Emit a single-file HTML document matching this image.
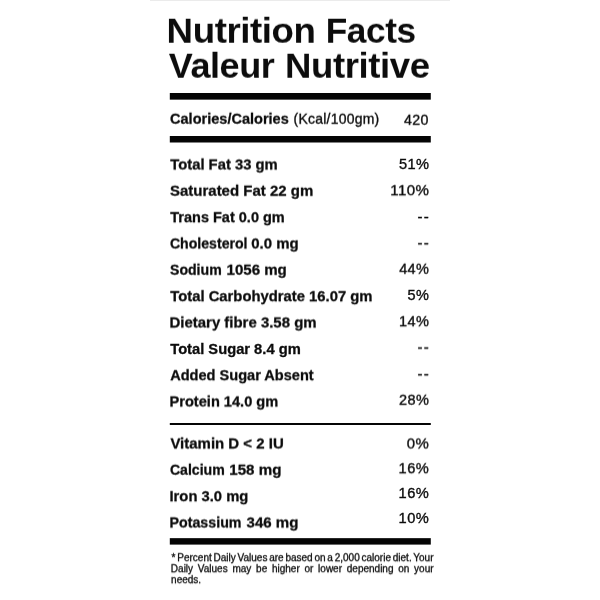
<!DOCTYPE html>
<html><head><meta charset="utf-8">
<title>Nutrition Facts</title>
<style>
html,body{margin:0;padding:0;background:#fff;}
body{width:600px;height:600px;position:relative;overflow:hidden;font-family:"Liberation Sans",sans-serif;color:#0c0c0c;}
.topline{position:absolute;left:150px;top:0;width:300px;height:1px;background:#ebebeb;}
.x{position:absolute;left:0;white-space:pre;transform-origin:0 0;line-height:1;}
.s1{filter:url(#s1)}.s2{filter:url(#s2)}.s3{filter:url(#s3)}
</style></head><body>
<svg width="0" height="0" style="position:absolute"><defs><filter id="s1" x="-5%" y="-30%" width="110%" height="160%" color-interpolation-filters="sRGB"><feConvolveMatrix order="1 2" kernelMatrix="0.75 0.25" targetY="1" divisor="1" preserveAlpha="false" edgeMode="none"/></filter><filter id="s2" x="-5%" y="-30%" width="110%" height="160%" color-interpolation-filters="sRGB"><feConvolveMatrix order="1 2" kernelMatrix="0.5 0.5" targetY="1" divisor="1" preserveAlpha="false" edgeMode="none"/></filter><filter id="s3" x="-5%" y="-30%" width="110%" height="160%" color-interpolation-filters="sRGB"><feConvolveMatrix order="1 2" kernelMatrix="0.25 0.75" targetY="1" divisor="1" preserveAlpha="false" edgeMode="none"/></filter></defs></svg>
<div class="topline"></div>
<svg style="position:absolute;left:0;top:0" width="600" height="600"><rect x="169.8" y="93" width="261" height="6.65" fill="#050505"/><rect x="169.8" y="136" width="261" height="6.5" fill="#050505"/><rect x="169.8" y="423" width="261" height="2" fill="#050505"/><rect x="169.8" y="538.15" width="261" height="6.45" fill="#050505"/></svg>
<div class="x s3" id="t1" style="top:13px;font-size:35.5px;font-weight:bold;letter-spacing:-0.4px;transform:translateX(166.62px) scaleX(1.0323);">Nutrition</div>
<div class="x s3" id="t1b" style="top:13px;font-size:35.5px;font-weight:bold;letter-spacing:-0.4px;transform:translateX(325.75px) scaleX(0.9917);">Facts</div>
<div class="x s3" id="t2" style="top:48px;font-size:35.5px;font-weight:bold;letter-spacing:-0.4px;transform:translateX(168.75px) scaleX(1.0149);">Valeur</div>
<div class="x s3" id="t2b" style="top:48px;font-size:35.5px;font-weight:bold;letter-spacing:-0.4px;transform:translateX(285px) scaleX(1.0297);">Nutritive</div>
<div class="x s3" id="c1" style="top:111px;font-size:14.2px;font-weight:bold;-webkit-text-stroke:0.28px #0c0c0c;transform:translateX(170px) scaleX(1.0248);">Calories/Calories</div>
<div class="x s3" id="c2" style="top:111px;font-size:14.2px;font-weight:normal;letter-spacing:0.25px;-webkit-text-stroke:0.35px #0c0c0c;transform:translateX(293.5px) scaleX(0.9834);">(Kcal/100gm)</div>
<div class="x s3" id="c3" style="top:112px;font-size:14px;font-weight:normal;letter-spacing:0.4px;-webkit-text-stroke:0.35px #0c0c0c;transform:translateX(403.88px) scaleX(1.0159);">420</div>
<div class="x s2" id="l0" style="top:157px;font-size:14.2px;font-weight:bold;-webkit-text-stroke:0.28px #0c0c0c;transform:translateX(170.25px) scaleX(1.0433);">Total Fat 33 gm</div>
<div class="x s3" id="l1" style="top:183px;font-size:14.2px;font-weight:bold;-webkit-text-stroke:0.28px #0c0c0c;transform:translateX(170px) scaleX(1.0561);">Saturated Fat 22 gm</div>
<div class="x s1" id="l2" style="top:210px;font-size:14.2px;font-weight:bold;-webkit-text-stroke:0.28px #0c0c0c;transform:translateX(170.25px) scaleX(1.0229);">Trans Fat 0.0 gm</div>
<div class="x s2" id="l3a" style="top:236px;font-size:14.2px;font-weight:bold;-webkit-text-stroke:0.28px #0c0c0c;transform:translateX(169.88px) scaleX(0.9948);">Cholesterol</div>
<div class="x s2" id="l3b" style="top:236px;font-size:14.2px;font-weight:bold;-webkit-text-stroke:0.28px #0c0c0c;transform:translateX(251.25px) scaleX(1.0549);">0.0 mg</div>
<div class="x s3" id="l4a" style="top:262px;font-size:14.2px;font-weight:bold;-webkit-text-stroke:0.28px #0c0c0c;transform:translateX(170px) scaleX(0.9936);">Sodium</div>
<div class="x s3" id="l4b" style="top:262px;font-size:14.2px;font-weight:bold;-webkit-text-stroke:0.28px #0c0c0c;transform:translateX(226.5px) scaleX(1.0621);">1056 mg</div>
<div class="x s1" id="l5" style="top:289px;font-size:14.2px;font-weight:bold;-webkit-text-stroke:0.28px #0c0c0c;transform:translateX(170.25px) scaleX(1.0443);">Total Carbohydrate 16.07 gm</div>
<div class="x s2" id="l6" style="top:315px;font-size:14.2px;font-weight:bold;-webkit-text-stroke:0.28px #0c0c0c;transform:translateX(169.5px) scaleX(1.0538);">Dietary fibre 3.58 gm</div>
<div class="x" id="l7" style="top:342px;font-size:14.2px;font-weight:bold;-webkit-text-stroke:0.28px #0c0c0c;transform:translateX(170.25px) scaleX(1.0364);">Total Sugar 8.4 gm</div>
<div class="x s1" id="l8" style="top:368px;font-size:14.2px;font-weight:bold;-webkit-text-stroke:0.28px #0c0c0c;transform:translateX(170.13px) scaleX(1.0272);">Added Sugar Absent</div>
<div class="x s2" id="l9" style="top:394px;font-size:14.2px;font-weight:bold;-webkit-text-stroke:0.28px #0c0c0c;transform:translateX(169.5px) scaleX(1.0293);">Protein 14.0 gm</div>
<div class="x s2" id="l10" style="top:436px;font-size:14.2px;font-weight:bold;-webkit-text-stroke:0.28px #0c0c0c;transform:translateX(170.38px) scaleX(1.0556);">Vitamin D &lt; 2 IU</div>
<div class="x s3" id="l11a" style="top:462px;font-size:14.2px;font-weight:bold;-webkit-text-stroke:0.28px #0c0c0c;transform:translateX(169.88px) scaleX(0.994);">Calcium</div>
<div class="x s3" id="l11b" style="top:462px;font-size:14.2px;font-weight:bold;-webkit-text-stroke:0.28px #0c0c0c;transform:translateX(229.25px) scaleX(1.066);">158 mg</div>
<div class="x s1" id="l12" style="top:489px;font-size:14.2px;font-weight:bold;-webkit-text-stroke:0.28px #0c0c0c;transform:translateX(169.5px) scaleX(1.0412);">Iron 3.0 mg</div>
<div class="x s2" id="l13a" style="top:515px;font-size:14.2px;font-weight:bold;-webkit-text-stroke:0.28px #0c0c0c;transform:translateX(169.5px) scaleX(1.0032);">Potassium</div>
<div class="x s2" id="l13b" style="top:515px;font-size:14.2px;font-weight:bold;-webkit-text-stroke:0.28px #0c0c0c;transform:translateX(246.5px) scaleX(1.0616);">346 mg</div>
<div class="x" id="v0" style="top:157px;font-size:14px;font-weight:normal;letter-spacing:0.4px;-webkit-text-stroke:0.35px #0c0c0c;transform:translateX(399px) scaleX(1.0418);">51%</div>
<div class="x s1" id="v1" style="top:183px;font-size:14px;font-weight:normal;letter-spacing:0.4px;-webkit-text-stroke:0.35px #0c0c0c;transform:translateX(390.25px) scaleX(1.0763);">110%</div>
<div class="x s3" id="v2" style="top:261px;font-size:14px;font-weight:normal;letter-spacing:0.4px;-webkit-text-stroke:0.35px #0c0c0c;transform:translateX(399.13px) scaleX(1.0336);">44%</div>
<div class="x" id="v3" style="top:288px;font-size:14px;font-weight:normal;letter-spacing:0.4px;-webkit-text-stroke:0.35px #0c0c0c;transform:translateX(407.62px) scaleX(1.0327);">5%</div>
<div class="x s1" id="v4" style="top:314px;font-size:14px;font-weight:normal;letter-spacing:0.4px;-webkit-text-stroke:0.35px #0c0c0c;transform:translateX(399.12px) scaleX(1.0371);">14%</div>
<div class="x s3" id="v5" style="top:392px;font-size:14px;font-weight:normal;letter-spacing:0.4px;-webkit-text-stroke:0.35px #0c0c0c;transform:translateX(399px) scaleX(1.0366);">28%</div>
<div class="x s2" id="v6" style="top:436px;font-size:14px;font-weight:normal;letter-spacing:0.4px;-webkit-text-stroke:0.35px #0c0c0c;transform:translateX(406.75px) scaleX(1.0667);">0%</div>
<div class="x s1" id="v7" style="top:461px;font-size:14px;font-weight:normal;letter-spacing:0.4px;-webkit-text-stroke:0.35px #0c0c0c;transform:translateX(398.62px) scaleX(1.0444);">16%</div>
<div class="x" id="v8" style="top:486px;font-size:14px;font-weight:normal;letter-spacing:0.4px;-webkit-text-stroke:0.35px #0c0c0c;transform:translateX(398.62px) scaleX(1.0444);">16%</div>
<div class="x" id="v9" style="top:511px;font-size:14px;font-weight:normal;letter-spacing:0.4px;-webkit-text-stroke:0.35px #0c0c0c;transform:translateX(398.62px) scaleX(1.0444);">10%</div>
<div class="x" id="d0" style="top:210px;font-size:14px;font-weight:normal;letter-spacing:1.2px;-webkit-text-stroke:0.35px #0c0c0c;transform:translateX(417.5px) scaleX(1.0728);">--</div>
<div class="x s1" id="d1" style="top:236px;font-size:14px;font-weight:normal;letter-spacing:1.2px;-webkit-text-stroke:0.35px #0c0c0c;transform:translateX(417.5px) scaleX(1.0728);">--</div>
<div class="x s2" id="d2" style="top:340px;font-size:14px;font-weight:normal;letter-spacing:1.2px;-webkit-text-stroke:0.35px #0c0c0c;transform:translateX(417.5px) scaleX(1.0728);">--</div>
<div class="x s1" id="d3" style="top:367px;font-size:14px;font-weight:normal;letter-spacing:1.2px;-webkit-text-stroke:0.35px #0c0c0c;transform:translateX(417.5px) scaleX(1.0728);">--</div>
<div class="x s1" id="f0" style="top:553px;font-size:10px;font-weight:normal;word-spacing:-0.991px;-webkit-text-stroke:0.3px #0c0c0c;transform:translateX(171.62px) scaleX(1);">* Percent Daily Values are based on a 2,000 calorie diet. Your</div>
<div class="x s1" id="f1" style="top:564px;font-size:10px;font-weight:normal;word-spacing:1.969px;-webkit-text-stroke:0.3px #0c0c0c;transform:translateX(170.87px) scaleX(1);">Daily Values may be higher or lower depending on your</div>
<div class="x s1" id="f2" style="top:575px;font-size:10px;font-weight:normal;-webkit-text-stroke:0.3px #0c0c0c;transform:translateX(171.12px) scaleX(1);">needs.</div>
</body></html>
